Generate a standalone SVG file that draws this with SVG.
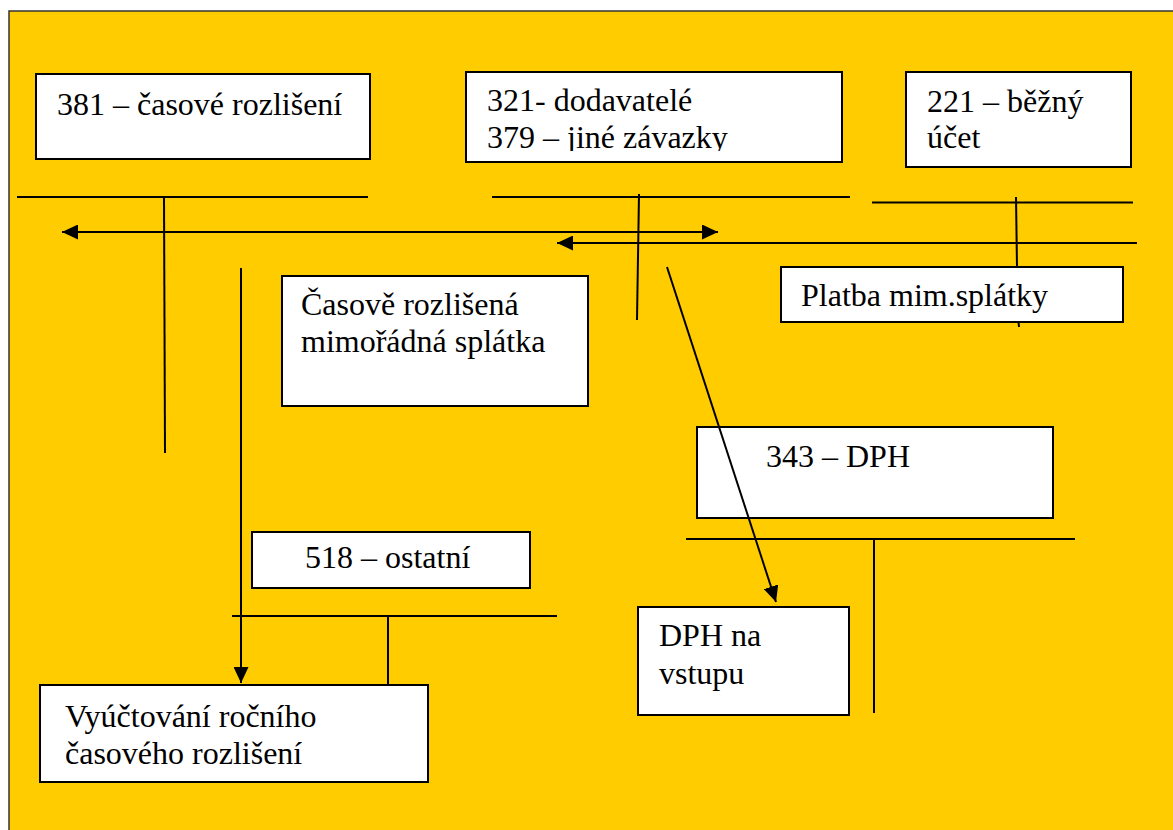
<svg xmlns="http://www.w3.org/2000/svg" width="1173" height="830" viewBox="0 0 1173 830">
  <style>
    .box { fill: #ffffff; stroke: #000000; stroke-width: 2; }
    .t { font-family: 'Liberation Serif', 'Times New Roman', serif; font-size: 32px; fill: #000000; }
    .ln { stroke: #000000; stroke-width: 2; fill: none; }
    .arr { stroke: #000000; stroke-width: 2; fill: none; marker-end: url(#head); }
  </style>
  <defs>
    <marker id="head" viewBox="0 0 16 15" markerUnits="userSpaceOnUse" markerWidth="16" markerHeight="15" refX="16" refY="7.5" orient="auto-start-reverse">
      <path d="M0,0 L16,7.5 L0,15 z" fill="#000000"/>
    </marker>
    <!-- the second line of the 321/379 box is cut off at its descenders -->
    <clipPath id="clip-321">
      <rect x="466" y="72" width="376" height="79"/>
    </clipPath>
  </defs>

  <rect width="1173" height="830" fill="#ffffff"/>
  <rect id="sheet" x="9" y="11" width="1200" height="900" fill="#ffcc00" stroke="#333333" stroke-width="1.5"/>

  <!-- account boxes -->
  <g id="acc-381">
    <rect class="box" x="36" y="74" width="334" height="85"/>
    <text class="t" x="57" y="115">381 – časové rozlišení</text>
  </g>
  <g id="acc-321">
    <rect class="box" x="466" y="72" width="376" height="90"/>
    <g clip-path="url(#clip-321)">
      <text class="t" x="487" y="111">321- dodavatelé</text>
      <text class="t" x="487" y="148">379 – jiné závazky</text>
    </g>
  </g>
  <g id="acc-221">
    <rect class="box" x="906" y="72" width="225" height="95"/>
    <text class="t" x="927" y="112">221 – běžný</text>
    <text class="t" x="927" y="148">účet</text>
  </g>
  <g id="note-mimoradna">
    <rect class="box" x="282" y="276" width="306" height="130"/>
    <text class="t" x="301" y="315">Časově rozlišená</text>
    <text class="t" x="301" y="352">mimořádná splátka</text>
  </g>
  <g id="note-platba">
    <rect class="box" x="781" y="267" width="342" height="55"/>
    <text class="t" x="801" y="306">Platba mim.splátky</text>
  </g>
  <g id="acc-343">
    <rect class="box" x="697" y="427" width="356" height="91"/>
    <text class="t" x="766" y="467">343 – DPH</text>
  </g>
  <g id="acc-518">
    <rect class="box" x="252" y="532" width="278" height="56"/>
    <text class="t" x="305" y="568">518 – ostatní</text>
  </g>
  <g id="note-dph-vstup">
    <rect class="box" x="638" y="607" width="211" height="108"/>
    <text class="t" x="659" y="646">DPH na</text>
    <text class="t" x="659" y="684">vstupu</text>
  </g>
  <g id="note-vyuctovani">
    <rect class="box" x="40" y="685" width="388" height="97"/>
    <text class="t" x="65" y="727">Vyúčtování ročního</text>
    <text class="t" x="65" y="764">časového rozlišení</text>
  </g>

  <!-- T-account lines and arrows -->
  <g id="connectors">
    <line class="ln" x1="17" y1="197" x2="368" y2="197"/>
    <line class="ln" x1="164" y1="197" x2="165" y2="453"/>

    <line class="ln" x1="492" y1="197" x2="850" y2="197"/>
    <line class="ln" x1="639" y1="194" x2="637" y2="320"/>

    <line class="ln" x1="872" y1="202.5" x2="1133" y2="202.5"/>
    <line class="ln" x1="1016" y1="197" x2="1017" y2="267"/>
    <line class="ln" x1="1018.5" y1="322" x2="1019" y2="327"/>

    <line class="ln" x1="686" y1="539" x2="1075" y2="539"/>
    <line class="ln" x1="874" y1="539" x2="874" y2="713"/>

    <line class="ln" x1="232" y1="616" x2="557" y2="616"/>
    <line class="ln" x1="388" y1="616" x2="388" y2="685"/>

    <line class="arr" x1="62" y1="232" x2="718" y2="232" marker-start="url(#head)"/>
    <line class="arr" x1="1137" y1="243" x2="557" y2="243"/>
    <line class="arr" x1="241" y1="268" x2="241" y2="683"/>
    <line class="arr" x1="667" y1="267" x2="776" y2="602"/>
  </g>
</svg>
